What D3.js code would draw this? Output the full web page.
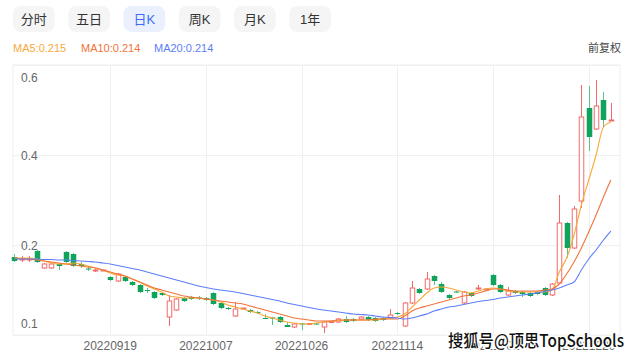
<!DOCTYPE html>
<html><head><meta charset="utf-8">
<script src="https://cdn.jsdelivr.net/npm/d3@7"></script>
<style>
body{margin:0;background:#fff;}
svg{display:block;font-family:"Liberation Sans","Noto Sans CJK SC",sans-serif;}
</style>
</head><body>
<svg id="chart" width="640" height="357"></svg>
<script>
// ---------- data ----------
const tabs = ["分时","五日","日K","周K","月K","1年"];
const activeTab = "日K";
const maNames = ["MA5","MA10","MA20"];
const maLegendValues = ["0.215","0.214","0.214"];
const adjustLabel = "前复权";
const watermark = "搜狐号@顶思TopSchools";

const dates = ["20220830","20220831","20220901","20220902","20220905","20220906","20220907","20220908","20220909","20220913",
"20220914","20220915","20220916","20220919","20220920","20220921","20220922","20220923","20220926","20220927",
"20220928","20220929","20220930","20221003","20221005","20221006","20221007","20221010","20221011","20221012",
"20221013","20221014","20221017","20221018","20221019","20221020","20221021","20221024","20221025","20221026",
"20221027","20221028","20221031","20221101","20221102","20221103","20221104","20221107","20221108","20221109",
"20221110","20221111","20221114","20221115","20221116","20221117","20221118","20221121","20221122","20221123",
"20221124","20221125","20221128","20221129","20221130","20221201","20221202","20221205","20221206","20221207",
"20221208","20221209","20221212","20221213","20221214","20221215","20221216","20221219","20221220","20221221",
"20221222","20221223"];

const open = [0.216,0.211,0.211,0.228,0.194,0.194,0.202,0.226,0.222,0.202,
0.193,0.188,0.189,0.176,0.168,0.176,0.166,0.160,0.150,0.146,
0.144,0.096,0.110,0.134,0.136,0.135,0.134,0.144,0.124,0.114,
0.098,0.113,0.110,0.106,0.094,0.095,0.096,0.080,0.076,0.083,
0.082,0.083,0.076,0.086,0.086,0.092,0.092,0.092,0.096,0.094,
0.094,0.094,0.104,0.078,0.124,0.152,0.152,0.178,0.162,0.140,
0.147,0.124,0.144,0.152,0.151,0.180,0.160,0.140,0.148,0.146,
0.144,0.146,0.154,0.140,0.164,0.284,0.234,0.328,0.514,0.472,
0.530,0.489];
const close = [0.208,0.212,0.212,0.206,0.202,0.202,0.198,0.206,0.198,0.198,
0.192,0.190,0.190,0.170,0.182,0.168,0.160,0.146,0.148,0.134,
0.140,0.128,0.132,0.128,0.132,0.134,0.130,0.122,0.114,0.112,
0.112,0.114,0.106,0.104,0.093,0.093,0.086,0.076,0.082,0.081,
0.083,0.082,0.086,0.087,0.092,0.086,0.088,0.096,0.090,0.088,
0.090,0.100,0.102,0.124,0.154,0.144,0.172,0.168,0.146,0.134,
0.146,0.146,0.138,0.154,0.152,0.160,0.146,0.148,0.144,0.142,
0.138,0.142,0.140,0.162,0.284,0.234,0.312,0.496,0.456,0.518,
0.490,0.490];
const high = [0.222,0.218,0.218,0.230,0.204,0.204,0.204,0.228,0.224,0.206,
0.198,0.192,0.190,0.178,0.184,0.178,0.168,0.162,0.154,0.148,
0.146,0.140,0.134,0.136,0.138,0.138,0.136,0.146,0.126,0.116,
0.126,0.114,0.112,0.108,0.102,0.096,0.098,0.086,0.084,0.084,
0.084,0.084,0.088,0.088,0.094,0.098,0.094,0.098,0.098,0.096,
0.096,0.112,0.106,0.126,0.168,0.154,0.186,0.180,0.166,0.142,
0.148,0.148,0.146,0.160,0.154,0.182,0.162,0.156,0.150,0.148,
0.146,0.148,0.156,0.164,0.340,0.286,0.318,0.560,0.558,0.570,
0.546,0.524];
const low = [0.206,0.206,0.206,0.204,0.192,0.192,0.190,0.204,0.196,0.194,
0.188,0.186,0.188,0.168,0.166,0.166,0.158,0.144,0.144,0.132,
0.138,0.078,0.108,0.126,0.130,0.130,0.128,0.120,0.112,0.110,
0.096,0.112,0.104,0.102,0.092,0.080,0.084,0.076,0.074,0.070,
0.081,0.080,0.064,0.085,0.084,0.084,0.086,0.090,0.088,0.086,
0.088,0.092,0.100,0.076,0.122,0.142,0.150,0.160,0.144,0.132,
0.144,0.122,0.136,0.150,0.150,0.158,0.144,0.138,0.142,0.136,
0.136,0.140,0.138,0.138,0.162,0.214,0.232,0.314,0.428,0.470,
0.474,0.488];

const ma5 = [0.214,0.214,0.214,0.212,0.208,0.204,0.202,0.202,0.204,0.202,
0.198,0.194,0.190,0.184,0.180,0.178,0.172,0.166,0.158,0.152,
0.146,0.138,0.136,0.134,0.134,0.134,0.132,0.130,0.126,0.120,
0.116,0.112,0.108,0.104,0.098,0.094,0.090,0.086,0.084,0.082,
0.082,0.084,0.086,0.088,0.088,0.090,0.090,0.090,0.090,0.090,
0.092,0.094,0.096,0.102,0.116,0.130,0.144,0.154,0.156,0.154,
0.150,0.146,0.144,0.148,0.152,0.154,0.152,0.148,0.146,0.146,
0.146,0.146,0.146,0.150,0.186,0.214,0.260,0.320,0.370,0.420,
0.476,0.486];
const ma10 = [0.214,0.212,0.212,0.210,0.208,0.206,0.204,0.202,0.200,0.198,
0.196,0.194,0.190,0.186,0.182,0.178,0.172,0.166,0.160,0.154,
0.150,0.146,0.142,0.138,0.136,0.134,0.132,0.130,0.128,0.126,
0.124,0.122,0.118,0.114,0.110,0.106,0.102,0.098,0.094,0.092,
0.090,0.088,0.088,0.088,0.090,0.090,0.090,0.090,0.090,0.092,
0.092,0.092,0.092,0.098,0.108,0.114,0.118,0.122,0.126,0.130,
0.134,0.138,0.140,0.144,0.148,0.152,0.152,0.150,0.148,0.148,
0.148,0.148,0.150,0.152,0.162,0.182,0.206,0.234,0.266,0.300,
0.336,0.370];
const ma20 = [0.212,0.212,0.212,0.212,0.211,0.211,0.210,0.210,0.209,0.208,
0.207,0.206,0.204,0.202,0.199,0.196,0.193,0.190,0.186,0.182,
0.178,0.174,0.170,0.166,0.162,0.158,0.155,0.152,0.150,0.148,
0.146,0.143,0.140,0.137,0.134,0.131,0.128,0.124,0.121,0.118,
0.115,0.112,0.110,0.108,0.106,0.104,0.102,0.101,0.100,0.098,
0.096,0.095,0.094,0.092,0.094,0.098,0.102,0.108,0.112,0.116,
0.118,0.121,0.124,0.127,0.129,0.131,0.134,0.136,0.138,0.140,
0.142,0.144,0.147,0.150,0.154,0.160,0.166,0.190,0.212,0.230,
0.250,0.268];

const xTickDates = ["20220919","20221007","20221026","20221114","20221201","20221220"];
const yTickValues = [0.06,0.24,0.42,0.6];
const yDomain = [0.06,0.6];

// ---------- styles ----------
const C = {ma5:"#f8a93a", ma10:"#f2733a", ma20:"#5c7ef5", up:"#f26b6b", down:"#0fa35b", downWick:"#5cc48c", grid:"#f0f0f0", axisText:"#666"};
const maColors = [C.ma5, C.ma10, C.ma20];
const maSeries = [ma5, ma10, ma20];

const svg = d3.select("#chart");
const plot = {left:13, right:620, top:65, bottom:335};

// tabs
const tabX = d3.scaleBand().domain(tabs).range([13, 331]).paddingInner(0.245).paddingOuter(0);
const tg = svg.append("g");
tabs.forEach(t => {
  const act = t === activeTab;
  tg.append("rect").attr("x", tabX(t)).attr("y", 6).attr("width", tabX.bandwidth()).attr("height", 26)
    .attr("rx", 8).attr("fill", act ? "#ebf0fe" : "#f5f5f5");
  tg.append("text").attr("x", tabX(t) + tabX.bandwidth()/2).attr("y", 23.5).attr("text-anchor","middle")
    .attr("font-size", 13).attr("fill", act ? "#3b6cf5" : "#333").text(t);
});

// legend
const legX = [13, 81, 154];
maNames.forEach((n,i) => {
  svg.append("text").attr("x", legX[i]).attr("y", 51.5).attr("font-size", 11)
    .attr("fill", maColors[i]).text(n + ":" + maLegendValues[i]);
});
svg.append("text").attr("x", 621).attr("y", 51.5).attr("text-anchor","end").attr("font-size", 11)
  .attr("fill", "#444").text(adjustLabel);

// scales
const x = d3.scaleBand().domain(dates).range([10.8, 614.5]).paddingInner(0.25).paddingOuter(0.125);
const cx = d => x(d) + x.bandwidth()/2;
const y = d3.scaleLinear().domain(yDomain).range([plot.bottom, plot.top]);

// grid
const g = svg.append("g");
g.append("rect").attr("x", plot.left).attr("y", plot.top).attr("width", plot.right-plot.left)
  .attr("height", plot.bottom-plot.top).attr("fill","none").attr("stroke", C.grid);
g.selectAll(".hg").data(yTickValues).join("line")
  .attr("x1", plot.left).attr("x2", plot.right).attr("y1", d=>y(d)+0.5).attr("y2", d=>y(d)+0.5)
  .attr("stroke", C.grid);
g.selectAll(".vg").data(xTickDates).join("line")
  .attr("x1", d=>Math.round(cx(d))+0.5).attr("x2", d=>Math.round(cx(d))+0.5).attr("y1", plot.top).attr("y2", plot.bottom)
  .attr("stroke", C.grid);

// y labels
const fmt = d3.format(".1f");
g.selectAll(".yl").data(yTickValues).join("text")
  .attr("x", 21).attr("y", d => y(d))
  .attr("dy", (d,i) => i === 0 ? -7 : (i === yTickValues.length-1 ? 17 : 4.5))
  .attr("font-size", 12).attr("fill", C.axisText).text(d => fmt(d));

// x labels
g.selectAll(".xl").data(xTickDates).join("text")
  .attr("x", d=>cx(d)).attr("y", 349.5).attr("text-anchor","middle")
  .attr("font-size", 12).attr("fill", C.axisText).text(d=>d);

// candles
const bars = dates.map((d,i)=>({d, o:open[i], c:close[i], h:high[i], l:low[i]}));
const cg = svg.append("g");
bars.forEach(b => {
  const up = b.c >= b.o;
  const xc = Math.round(cx(b.d)) + 0.5;
  cg.append("line").attr("x1", xc).attr("x2", xc).attr("y1", y(b.h)).attr("y2", y(b.l))
    .attr("stroke", up ? C.up : C.downWick).attr("stroke-width", 1);
  const top = y(Math.max(b.o,b.c)), bot = y(Math.min(b.o,b.c));
  const w = x.bandwidth();
  const hgt = Math.max(1, bot-top);
  if (up) {
    cg.append("rect").attr("x", xc - w/2 + 0.5).attr("y", top).attr("width", w-1).attr("height", hgt)
      .attr("fill", "#fff").attr("stroke", C.up).attr("stroke-width", 1);
  } else {
    cg.append("rect").attr("x", xc - w/2).attr("y", top).attr("width", w).attr("height", hgt)
      .attr("fill", C.down);
  }
});

// MA lines
const line = d3.line().x((v,i)=>cx(dates[i])).y(v=>y(v)).curve(d3.curveMonotoneX);
maSeries.forEach((s,i) => {
  svg.append("path").attr("d", line(s)).attr("fill","none").attr("stroke", maColors[i]).attr("stroke-width", 1.1);
});

// watermark
svg.append("text").attr("x", 448).attr("y", 346.5).attr("font-size", 17).attr("font-weight", "500")
  .attr("font-family", "'Noto Sans CJK SC', sans-serif")
  .attr("textLength", 176).attr("lengthAdjust", "spacingAndGlyphs")
  .attr("fill", "#111").attr("stroke", "#fff").attr("stroke-width", 3).attr("paint-order", "stroke")
  .text(watermark);
</script>
</body></html>
